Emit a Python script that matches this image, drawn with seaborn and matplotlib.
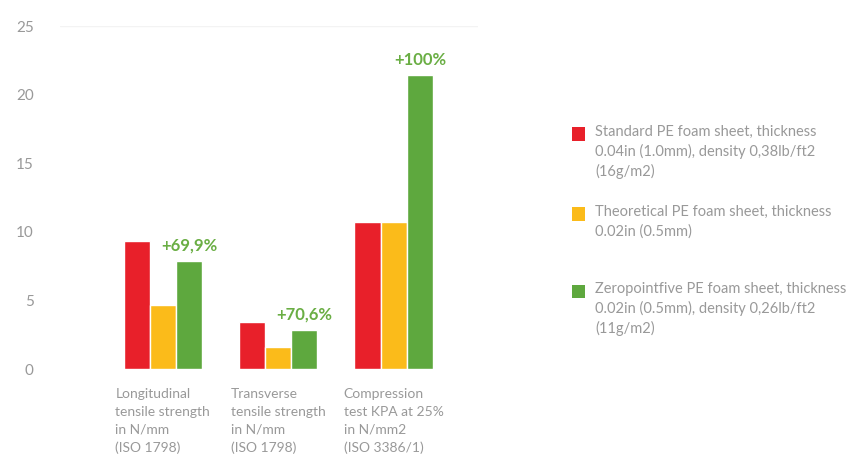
import matplotlib
matplotlib.use("Agg")
import matplotlib.pyplot as plt
from matplotlib.patches import Rectangle
import pandas as pd
import seaborn as sns

# Test categories (x axis)
tests = [
    "Longitudinal\ntensile strength\nin N/mm\n(ISO 1798)",
    "Transverse\ntensile strength\nin N/mm\n(ISO 1798)",
    "Compression\ntest KPA at 25%\nin N/mm2\n(ISO 3386/1)",
]

# Materials (series)
materials = [
    "Standard PE foam sheet, thickness\n0.04in (1.0mm), density 0,38lb/ft2\n(16g/m2)",
    "Theoretical PE foam sheet, thickness\n0.02in (0.5mm)",
    "Zeropointfive PE foam sheet, thickness\n0.02in (0.5mm), density 0,26lb/ft2\n(11g/m2)",
]

standard_values = [9.3, 3.4, 10.7]
theoretical_values = [4.65, 1.6, 10.7]
zeropointfive_values = [7.9, 2.85, 21.4]

improvement_labels = ["+69,9%", "+70,6%", "+100%"]

colors = ["#e8202a", "#fbbb1a", "#5ea83e"]
label_green = "#6aae44"
grey_text = "#999999"

rows = []
for series, vals in zip(materials, [standard_values, theoretical_values, zeropointfive_values]):
    for t, v in zip(tests, vals):
        rows.append({"test": t, "material": series, "value": v})
df = pd.DataFrame(rows)

sns.set_theme(style="white")
plt.rcParams["font.family"] = ["Lato", "DejaVu Sans"]

fig = plt.figure(figsize=(8.52, 4.61), dpi=100)
W, H = 852, 461
ax = fig.add_axes([60 / W, (H - 369) / H, (478 - 60) / W, (369 - 26) / H])

sns.barplot(
    data=df, x="test", y="value", hue="material", order=tests, hue_order=materials,
    palette=colors, width=0.68, saturation=1, ax=ax, legend=False,
)

ax.set_xlim(-0.89, 2.73)
ax.set_ylim(0, 25)
ax.set_yticks([0, 5, 10, 15, 20, 25])
ax.set_xlabel("")
ax.set_ylabel("")
for s in ax.spines.values():
    s.set_visible(False)
ax.axhline(25, color="#f3f3f3", lw=1, zorder=0)

ax.tick_params(axis="y", length=0, pad=19, labelsize=11, labelcolor=grey_text)
ax.tick_params(axis="x", length=0, pad=14, labelsize=10, labelcolor=grey_text)
for lbl in ax.get_xticklabels():
    lbl.set_multialignment("left")
    lbl.set_linespacing(1.55)
    lbl.set_verticalalignment("top")

# Improvement labels above the Zeropointfive bars
green_bars = ax.containers[2]
for bar, txt in zip(green_bars, improvement_labels):
    ax.annotate(
        txt, (bar.get_x() + bar.get_width() / 2, bar.get_height()),
        xytext=(0, 5), textcoords="offset points", ha="center", va="bottom",
        color=label_green, fontsize=12, fontweight="bold",
    )

# Legend on the right, one square per series aligned to the first text line
legend_tops = [134, 214, 291]
for c, lab, yc in zip(colors, materials, legend_tops):
    fig.add_artist(Rectangle(((572) / W, (H - yc - 6.5) / H), 13 / W, 13 / H,
                             transform=fig.transFigure, color=c, lw=0))
    fig.text(595 / W, (H - yc + 9) / H, lab, ha="left", va="top",
             fontsize=10.5, color=grey_text, linespacing=1.43)

fig.savefig("out.png", dpi=100)
